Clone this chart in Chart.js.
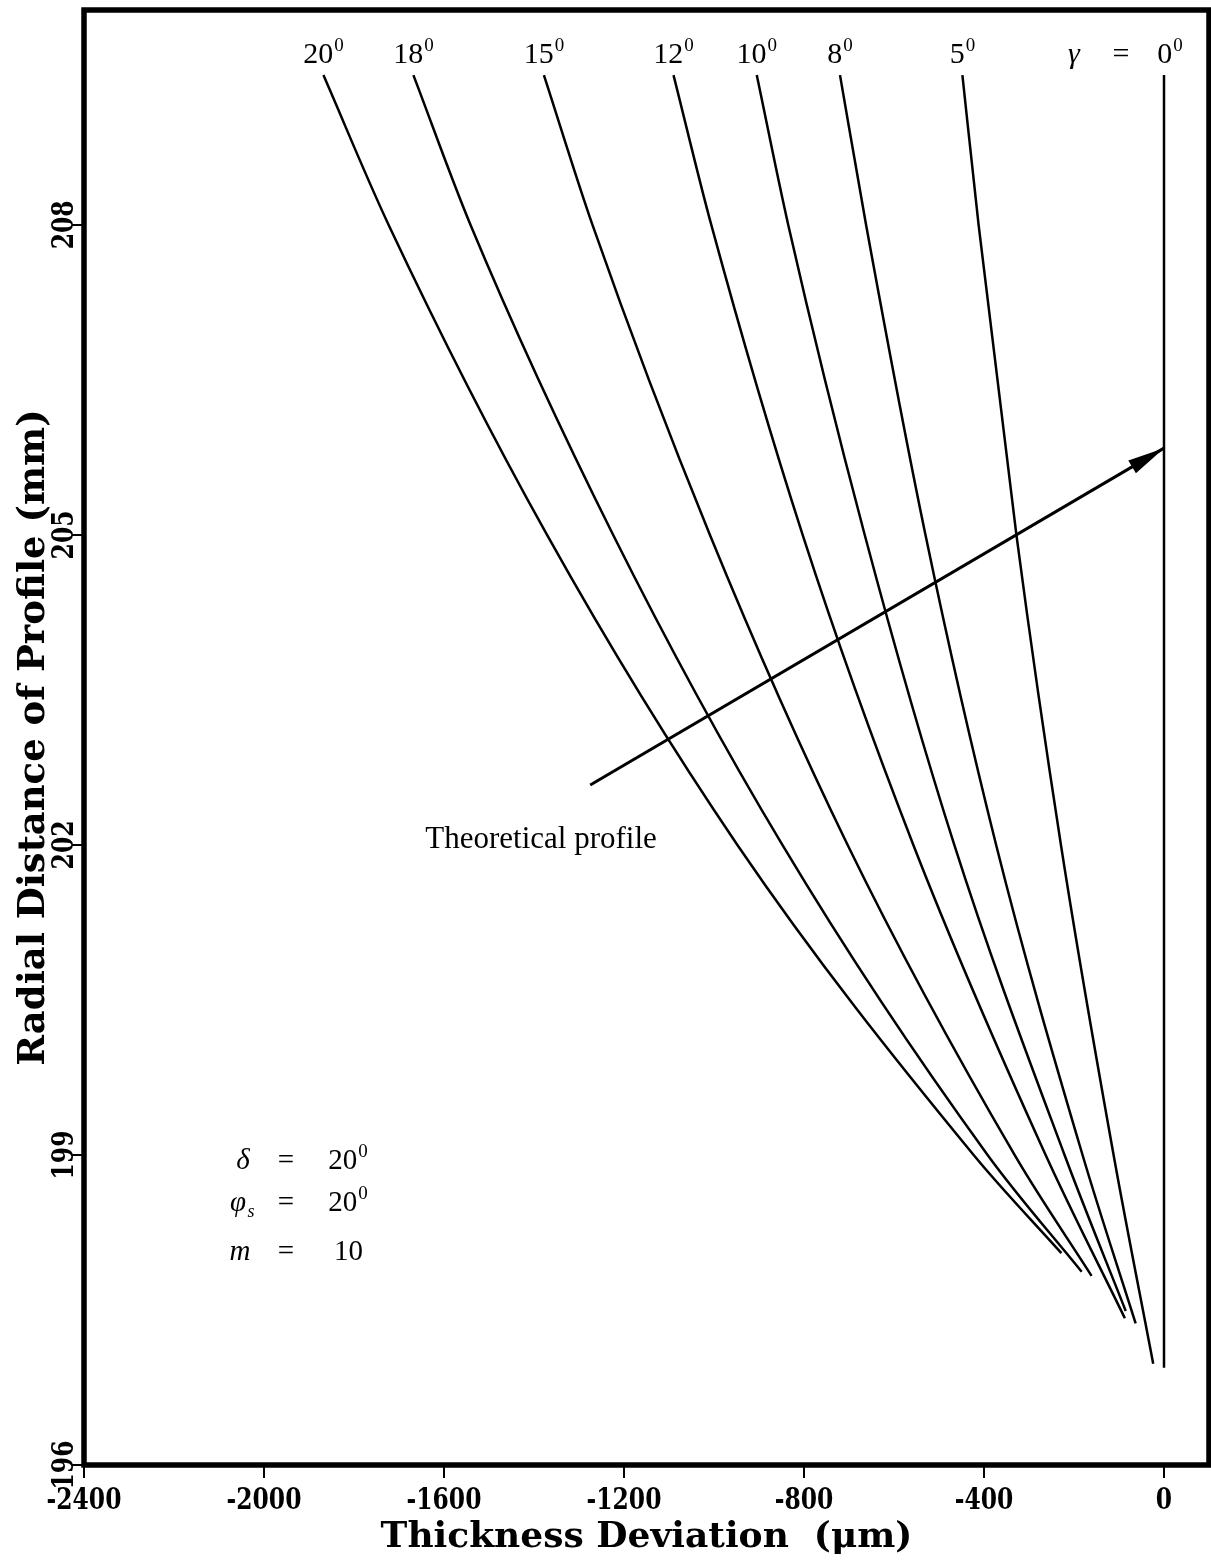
<!DOCTYPE html>
<html>
<head>
<meta charset="utf-8">
<script src="https://cdn.jsdelivr.net/npm/chart.js@4.4.0/dist/chart.umd.min.js"></script>
<style>
  html, body { margin: 0; padding: 0; background: #fff; }
  #wrap { width: 1211px; height: 1560px; }
</style>
</head>
<body>
<div id="wrap"><canvas id="chart"></canvas></div>
<script>
// gamma values, one curve each
const gammas = [20, 18, 15, 12, 10, 8, 5, 0];

// thickness deviation (um) and radial distance (mm) along each curve
const dev20 = [-1868, -1723, -1371, -948, -423, -228];
const rad20 = [209.45, 208, 205, 202, 199, 198.05];
const dev18 = [-1668, -1541, -1224, -848, -392, -183];
const rad18 = [209.45, 208, 205, 202, 199, 197.87];
const dev15 = [-1378, -1270, -1009, -703, -332, -161];
const rad15 = [209.45, 208, 205, 202, 199, 197.83];
const dev12 = [-1090, -1006, -803, -557, -263, -87];
const rad12 = [209.45, 208, 205, 202, 199, 197.42];
const dev10 = [-905, -835, -665, -466, -221, -85];
const rad10 = [209.45, 208, 205, 202, 199, 197.49];
const dev8 = [-720, -662, -530, -373, -181, -63];
const rad8 = [209.45, 208, 205, 202, 199, 197.37];
const dev5 = [-448, -412, -328, -229, -112, -24];
const rad5 = [209.45, 208, 205, 202, 199, 196.98];
const dev0 = [0, 0];
const rad0 = [209.45, 196.94];

// pointer from the "Theoretical profile" label to the gamma = 0 line
const arrowDev = [-1275, 0];
const arrowRad = [202.58, 205.84];

const xTickValues = [-2400, -2000, -1600, -1200, -800, -400, 0];
const yTickValues = [196, 199, 202, 205, 208];

const curveDev = [dev20, dev18, dev15, dev12, dev10, dev8, dev5, dev0];
const curveRad = [rad20, rad18, rad15, rad12, rad10, rad8, rad5, rad0];

const toPoints = (xs, ys) => xs.map((v, i) => ({ x: v, y: ys[i] }));

const datasets = gammas.map((g, i) => ({
    label: 'gamma ' + g,
    data: toPoints(curveDev[i], curveRad[i]),
    borderColor: '#000',
    borderWidth: 2.5,
    cubicInterpolationMode: g === 0 ? 'default' : 'monotone',
    tension: g === 0 ? 0 : 0.4,
    pointRadius: 0,
    fill: false
}));
datasets.push({
    label: 'theoretical',
    data: toPoints(arrowDev, arrowRad),
    borderColor: '#000',
    borderWidth: 3,
    tension: 0,
    pointRadius: 0,
    fill: false
});

const SERIF = '"Liberation Serif", "DejaVu Serif", serif';
const BOLD = '"DejaVu Serif", serif';

// base text with a small raised "0" after it, centred on cx
function supText(ctx, base, sup, cx, baseline, size) {
    ctx.font = size + 'px ' + SERIF;
    const wb = ctx.measureText(base).width;
    ctx.font = Math.round(size * 0.64) + 'px ' + SERIF;
    const ws = ctx.measureText(sup).width;
    const left = cx - (wb + ws + 1) / 2;
    ctx.textAlign = 'left';
    ctx.textBaseline = 'alphabetic';
    ctx.font = size + 'px ' + SERIF;
    ctx.fillText(base, left, baseline);
    ctx.font = Math.round(size * 0.64) + 'px ' + SERIF;
    ctx.fillText(sup, left + wb + 1, baseline - size * 0.42);
}

// bold, horizontally squeezed tick label
function tickLabel(ctx, text, px, py, rotate) {
    ctx.save();
    ctx.translate(px, py);
    if (rotate) ctx.rotate(-Math.PI / 2);
    ctx.scale(0.78, 1);
    ctx.fillText(text, 0, 0);
    ctx.restore();
}

const annotations = {
    id: 'annotations',
    afterDraw(chart) {
        const { ctx, chartArea, scales: { x, y } } = chart;
        ctx.save();
        ctx.fillStyle = '#000';
        ctx.strokeStyle = '#000';

        // frame
        ctx.lineWidth = 5.5;
        ctx.strokeRect(chartArea.left, chartArea.top, chartArea.right - chartArea.left, chartArea.bottom - chartArea.top);

        // tick labels
        ctx.font = 'bold 30px ' + BOLD;
        ctx.textAlign = 'center';
        ctx.textBaseline = 'middle';
        x.ticks.forEach(t => tickLabel(ctx, String(t.value), x.getPixelForValue(t.value), chartArea.bottom + 36, false));
        y.ticks.forEach(t => tickLabel(ctx, String(t.value), chartArea.left - 19, y.getPixelForValue(t.value), true));

        // curve labels at the top
        const labelY = y.getPixelForValue(209.45) - 12;
        gammas.forEach((g, i) => {
            const px = x.getPixelForValue(curveDev[i][0]);
            if (g === 0) {
                supText(ctx, '0', '0', px + 6, labelY, 30);
                ctx.font = 'italic 30px ' + SERIF;
                ctx.textAlign = 'center';
                ctx.fillText('\u03b3', px - 90, labelY);
                ctx.font = '30px ' + SERIF;
                ctx.fillText('=', px - 43, labelY);
            } else {
                supText(ctx, String(g), '0', px, labelY, 30);
            }
        });

        // arrow head on the theoretical profile pointer
        const meta = chart.getDatasetMeta(gammas.length);
        const p0 = meta.data[0], p1 = meta.data[1];
        const ang = Math.atan2(p1.y - p0.y, p1.x - p0.x);
        ctx.save();
        ctx.translate(p1.x, p1.y);
        ctx.rotate(ang);
        ctx.beginPath();
        ctx.moveTo(0, 0);
        ctx.lineTo(-37, -7.5);
        ctx.lineTo(-37, 7.5);
        ctx.closePath();
        ctx.fill();
        ctx.restore();

        ctx.font = '31px ' + SERIF;
        ctx.textAlign = 'left';
        ctx.textBaseline = 'alphabetic';
        ctx.fillText('Theoretical profile', p0.x - 165, p0.y + 63);

        // parameter block
        const bx = chartArea.left;
        ctx.textAlign = 'center';
        ctx.font = 'italic 29px ' + SERIF;
        ctx.fillText('\u03b4', bx + 159, 1169);
        ctx.fillText('\u03c6', bx + 154, 1211);
        ctx.font = 'italic 18px ' + SERIF;
        ctx.fillText('s', bx + 167, 1217);
        ctx.font = 'italic 29px ' + SERIF;
        ctx.fillText('m', bx + 156, 1260);
        ctx.font = '29px ' + SERIF;
        ctx.fillText('=', bx + 202, 1169);
        ctx.fillText('=', bx + 202, 1211);
        ctx.fillText('=', bx + 202, 1260);
        supText(ctx, '20', '0', bx + 264, 1169, 29);
        supText(ctx, '20', '0', bx + 264, 1211, 29);
        ctx.font = '29px ' + SERIF;
        ctx.textAlign = 'left';
        ctx.fillText('10', bx + 250, 1260);

        ctx.restore();
    }
};

new Chart(document.getElementById('chart'), {
    type: 'line',
    data: { datasets },
    options: {
        responsive: true,
        maintainAspectRatio: false,
        animation: false,
        layout: { padding: { top: 10, right: 2, left: 0, bottom: 0 } },
        plugins: { legend: { display: false }, tooltip: { enabled: false } },
        scales: {
            x: {
                type: 'linear',
                min: -2400,
                max: 100,
                afterBuildTicks: s => { s.ticks = xTickValues.map(v => ({ value: v })); },
                afterFit: s => { s.height = 95; },
                grid: { display: true, drawOnChartArea: false, drawTicks: true, tickLength: 13, lineWidth: 2, color: '#000' },
                border: { display: false },
                ticks: { display: false },
                title: {
                    display: true,
                    text: 'Thickness Deviation  (\u03bcm)',
                    color: '#000',
                    font: { family: BOLD, size: 36, weight: 'bold' },
                    padding: { top: 0, bottom: 1 }
                }
            },
            y: {
                type: 'linear',
                min: 196,
                max: 210.08,
                afterBuildTicks: s => { s.ticks = yTickValues.map(v => ({ value: v })); },
                afterFit: s => { s.width = 84; },
                grid: { display: true, drawOnChartArea: false, drawTicks: true, tickLength: 12, lineWidth: 2, color: '#000' },
                border: { display: false },
                ticks: { display: false },
                title: {
                    display: true,
                    text: 'Radial Distance of Profile (mm)',
                    color: '#000',
                    font: { family: BOLD, size: 37, weight: 'bold' },
                    padding: { top: 12, bottom: 0 }
                }
            }
        }
    },
    plugins: [annotations]
});
</script>
</body>
</html>
